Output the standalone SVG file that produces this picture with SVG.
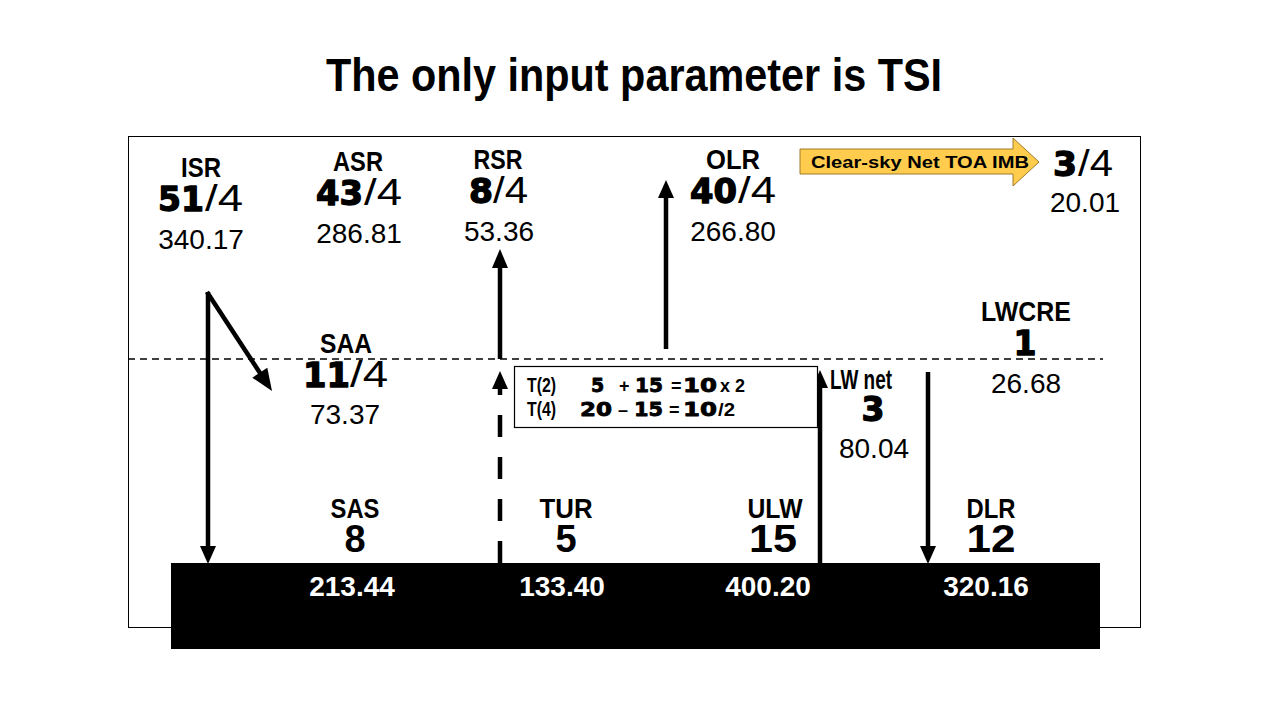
<svg xmlns="http://www.w3.org/2000/svg" width="1280" height="720" viewBox="0 0 1280 720">
<style>
.t{font-family:"Liberation Sans",Arial,sans-serif;fill:#000}
.b{font-family:"Liberation Sans",Arial,sans-serif;font-weight:bold;fill:#000}
.h{font-family:"DejaVu Sans",Verdana,sans-serif;font-weight:bold;fill:#000;stroke:#000;stroke-width:1.3;stroke-linejoin:round}
.hs{stroke-width:0.8}
.nm{font-size:28px;text-anchor:middle}
.val{font-size:28px;text-anchor:middle}
.big{font-size:33px}
.sl{font-size:36px}
.w{fill:#fff}
.ln{stroke:#000;stroke-width:4.5;fill:none}
.hd{fill:#000}
</style>
<rect width="1280" height="720" fill="#fff"/>
<text class="b" x="634" y="91" font-size="46" text-anchor="middle" textLength="616" lengthAdjust="spacingAndGlyphs">The only input parameter is TSI</text>
<rect x="128.5" y="136.5" width="1012" height="491" fill="none" stroke="#000" stroke-width="1"/>
<line x1="128" y1="359" x2="1103" y2="359" stroke="#000" stroke-width="1.5" stroke-dasharray="7 5"/>
<rect x="171" y="563" width="929" height="86" fill="#000"/>

<g id="connectors">
<line class="ln" x1="208" y1="292" x2="208" y2="548"/>
<polygon class="hd" points="200,546 216,546 208,564"/>
<line class="ln" x1="207" y1="292" x2="262" y2="376"/>
<polygon class="hd" points="252.3,377.7 267.3,367.7 272,391"/>
<line class="ln" x1="500" y1="359" x2="500" y2="266"/>
<polygon class="hd" points="492,268 508,268 500,249"/>
<line class="ln" x1="500" y1="563" x2="500" y2="386" stroke-dasharray="22 20"/>
<polygon class="hd" points="492,389 508,389 500,371"/>
<line class="ln" x1="666" y1="349" x2="666" y2="196"/>
<polygon class="hd" points="658,198 674,198 666,180"/>
<line class="ln" x1="820" y1="563" x2="820" y2="386"/>
<polygon class="hd" points="812,388 828,388 820,370"/>
<line class="ln" x1="928" y1="372" x2="928" y2="548"/>
<polygon class="hd" points="920,546 936,546 928,564"/>
</g>

<g id="isr">
<text class="b nm" x="201" y="177" textLength="40" lengthAdjust="spacingAndGlyphs">ISR</text>
<text class="h big" x="158" y="211" textLength="46" lengthAdjust="spacingAndGlyphs">51</text>
<text class="t sl" x="205" y="211" textLength="38" lengthAdjust="spacingAndGlyphs">/4</text>
<text class="t val" x="201" y="249">340.17</text>
</g>
<g id="asr">
<text class="b nm" x="358" y="171" textLength="50" lengthAdjust="spacingAndGlyphs">ASR</text>
<text class="h big" x="316" y="205" textLength="47" lengthAdjust="spacingAndGlyphs">43</text>
<text class="t sl" x="364" y="205" textLength="38" lengthAdjust="spacingAndGlyphs">/4</text>
<text class="t val" x="359" y="243">286.81</text>
</g>
<g id="rsr">
<text class="b nm" x="498" y="169" textLength="49" lengthAdjust="spacingAndGlyphs">RSR</text>
<text class="h big" x="469" y="203" textLength="24" lengthAdjust="spacingAndGlyphs">8</text>
<text class="t sl" x="493" y="203" textLength="35" lengthAdjust="spacingAndGlyphs">/4</text>
<text class="t val" x="499" y="241">53.36</text>
</g>
<g id="olr">
<text class="b nm" x="733" y="169" textLength="54" lengthAdjust="spacingAndGlyphs">OLR</text>
<text class="h big" x="690" y="203" textLength="47" lengthAdjust="spacingAndGlyphs">40</text>
<text class="t sl" x="738" y="203" textLength="38" lengthAdjust="spacingAndGlyphs">/4</text>
<text class="t val" x="733" y="241">266.80</text>
</g>
<g id="imb">
<polygon points="800,149 1013,149 1013,138 1039,162 1013,186 1013,174 800,174" fill="#FFCC4E" stroke="#9C7A2B" stroke-width="1"/>
<text class="b" x="811" y="168" font-size="17" textLength="218" lengthAdjust="spacingAndGlyphs">Clear-sky Net TOA IMB</text>
<text class="h big" x="1053" y="176" textLength="24" lengthAdjust="spacingAndGlyphs">3</text>
<text class="t sl" x="1078" y="176" textLength="35" lengthAdjust="spacingAndGlyphs">/4</text>
<text class="t val" x="1085" y="212">20.01</text>
</g>
<g id="saa">
<text class="b nm" x="346" y="353" textLength="52" lengthAdjust="spacingAndGlyphs">SAA</text>
<text class="h big" x="303" y="387" textLength="47" lengthAdjust="spacingAndGlyphs">11</text>
<text class="t sl" x="350" y="387" textLength="38" lengthAdjust="spacingAndGlyphs">/4</text>
<text class="t val" x="345" y="424">73.37</text>
</g>
<g id="lwcre">
<text class="b nm" x="1026" y="321" textLength="90" lengthAdjust="spacingAndGlyphs">LWCRE</text>
<text class="h big" x="1025" y="355" text-anchor="middle">1</text>
<text class="t val" x="1026" y="393">26.68</text>
</g>
<g id="lwnet">
<text class="b nm" x="861" y="389" textLength="62" lengthAdjust="spacingAndGlyphs">LW net</text>
<text class="h big" x="873" y="421" text-anchor="middle">3</text>
<text class="t val" x="874" y="458">80.04</text>
</g>
<g id="box">
<rect x="514.5" y="366.5" width="303" height="61" fill="#fff" stroke="#000" stroke-width="1.2"/>
<text class="b" x="527" y="392" font-size="20" textLength="29" lengthAdjust="spacingAndGlyphs">T(2)</text>
<text class="h hs" x="591" y="392" font-size="19">5</text>
<text class="b" x="619" y="392" font-size="18">+</text>
<text class="h hs" x="635" y="392" font-size="19" textLength="28" lengthAdjust="spacingAndGlyphs">15</text>
<text class="b" x="671" y="392" font-size="18">=</text>
<text class="h hs" x="683" y="392" font-size="19" textLength="34" lengthAdjust="spacingAndGlyphs">10</text>
<text class="b" x="720" y="392" font-size="19" textLength="25" lengthAdjust="spacingAndGlyphs">x 2</text>
<text class="b" x="527" y="416" font-size="20" textLength="29" lengthAdjust="spacingAndGlyphs">T(4)</text>
<text class="h hs" x="580" y="416" font-size="19" textLength="32" lengthAdjust="spacingAndGlyphs">20</text>
<text class="b" x="618" y="416" font-size="18">–</text>
<text class="h hs" x="634" y="416" font-size="19" textLength="29" lengthAdjust="spacingAndGlyphs">15</text>
<text class="b" x="669" y="416" font-size="18">=</text>
<text class="h hs" x="683" y="416" font-size="19" textLength="34" lengthAdjust="spacingAndGlyphs">10</text>
<text class="b" x="718" y="416" font-size="19" textLength="17" lengthAdjust="spacingAndGlyphs">/2</text>
</g>
<g id="sas">
<text class="b nm" x="355" y="518" textLength="49" lengthAdjust="spacingAndGlyphs">SAS</text>
<text class="b" x="355" y="552" font-size="38" text-anchor="middle">8</text>
<text class="b val w" x="352" y="596">213.44</text>
</g>
<g id="tur">
<text class="b nm" x="566" y="518" textLength="53" lengthAdjust="spacingAndGlyphs">TUR</text>
<text class="b" x="566" y="552" font-size="38" text-anchor="middle">5</text>
<text class="b val w" x="562" y="596">133.40</text>
</g>
<g id="ulw">
<text class="b nm" x="775" y="518" textLength="55" lengthAdjust="spacingAndGlyphs">ULW</text>
<text class="b" x="773" y="552" font-size="38" text-anchor="middle" textLength="48" lengthAdjust="spacingAndGlyphs">15</text>
<text class="b val w" x="768" y="596">400.20</text>
</g>
<g id="dlr">
<text class="b nm" x="991" y="518" textLength="49" lengthAdjust="spacingAndGlyphs">DLR</text>
<text class="b" x="991" y="552" font-size="38" text-anchor="middle" textLength="49" lengthAdjust="spacingAndGlyphs">12</text>
<text class="b val w" x="986" y="596">320.16</text>
</g>
</svg>
